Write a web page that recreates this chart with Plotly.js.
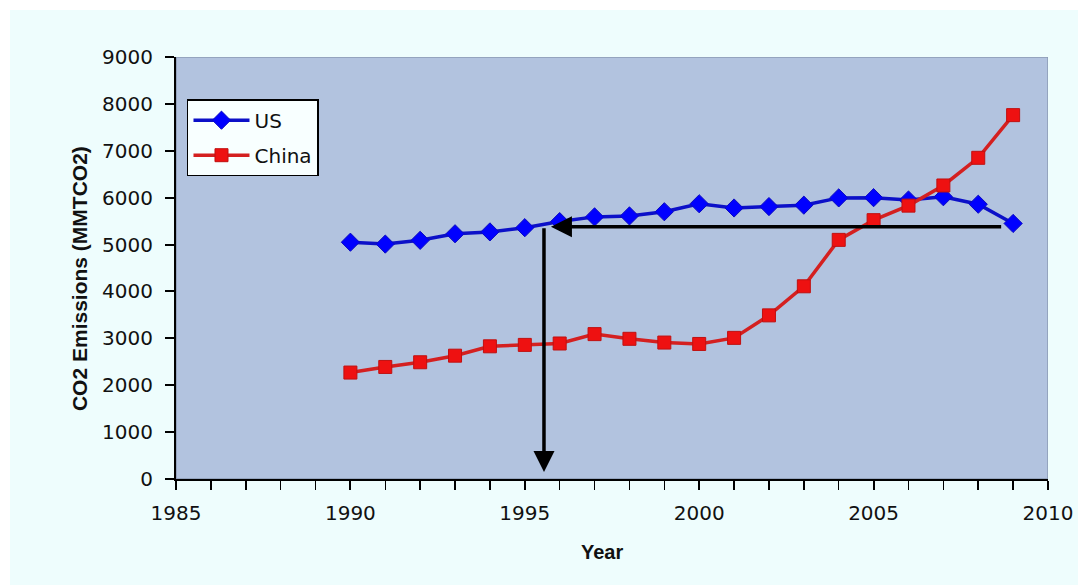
<!DOCTYPE html>
<html>
<head>
<meta charset="utf-8">
<script src="https://cdn.plot.ly/plotly-3.0.1.min.js"></script>
<style>
  html, body { margin: 0; padding: 0; background: #ffffff; width: 1078px; height: 585px; overflow: hidden; }
  #chart { position: absolute; left: 10px; top: 10px; width: 1068px; height: 575px; }
</style>
</head>
<body>
<div id="chart"></div>
<script>
const years = [1990,1991,1992,1993,1994,1995,1996,1997,1998,1999,2000,2001,2002,2003,2004,2005,2006,2007,2008,2009];
const usEmissions = [5050,5010,5090,5230,5270,5360,5490,5590,5610,5700,5870,5780,5810,5840,5995,6000,5950,6020,5860,5450];
const chinaEmissions = [2270,2390,2490,2630,2830,2860,2890,3090,2990,2910,2880,3010,3490,4110,5100,5520,5830,6260,6850,7760];
const seriesNames = ['US', 'China'];
const xTicks = [1985,1990,1995,2000,2005,2010];
const yTicks = [0,1000,2000,3000,4000,5000,6000,7000,8000,9000];
const xTitle = 'Year';
const yTitle = 'CO2 Emissions (MMTCO2)';
// reference arrows: horizontal read-off at US level, vertical drop to the year axis
const readLevel = 5380;
const readYear = 1995.55;
const hArrowFrom = 2008.7;
const hArrowTo = 1995.75;
const vArrowTo = 150;

const font = 'Arial, "Liberation Sans", sans-serif';
const tickFont = '"DejaVu Sans", Arial, sans-serif';

const traces = [
  {
    x: years, y: usEmissions, name: seriesNames[0], type: 'scatter', mode: 'lines+markers',
    legendgroup: 'a',
    line: {color: '#0c10c8', width: 3.5},
    marker: {symbol: 'diamond', size: 14, color: '#0000ff', line: {color: '#0a0ac0', width: 1}}
  },
  {
    x: years, y: chinaEmissions, name: seriesNames[1], type: 'scatter', mode: 'lines+markers',
    legendgroup: 'b',
    line: {color: '#d42020', width: 3.5},
    marker: {symbol: 'square', size: 13, color: '#ee1111', line: {color: '#c01010', width: 1}}
  }
];

const layout = {
  width: 1068, height: 575,
  margin: {l: 166, r: 30, t: 47, b: 106},
  paper_bgcolor: '#eefdfd',
  plot_bgcolor: '#b2c3df',
  font: {family: font, color: '#000000', size: 20},
  showlegend: true,
  legend: {
    x: 0.0126, y: 0.90, xanchor: 'left', yanchor: 'top',
    bgcolor: '#f8ffff', bordercolor: '#000000', borderwidth: 1.5,
    font: {family: tickFont, size: 20, color: '#111111'},
    traceorder: 'grouped', tracegroupgap: 6, itemwidth: 56
  },
  xaxis: {
    range: [1985, 2010], tickvals: xTicks, ticktext: xTicks.map(String),
    showgrid: false, zeroline: false,
    showline: true, linecolor: '#000000', linewidth: 2,
    ticks: 'outside', ticklen: 9, tickwidth: 2, tickcolor: '#000000',
    ticklabelstandoff: 6,
    minor: {dtick: 1, ticks: 'outside', ticklen: 9, tickwidth: 1.5, tickcolor: '#000000', showgrid: false},
    tickfont: {family: tickFont, size: 20, color: '#111111'},
    fixedrange: true
  },
  yaxis: {
    range: [0, 9000], tickvals: yTicks, ticktext: yTicks.map(String),
    showgrid: false, zeroline: false,
    showline: true, linecolor: '#000000', linewidth: 2,
    ticks: 'outside', ticklen: 9, tickwidth: 2, tickcolor: '#000000',
    ticklabelstandoff: 8,
    tickfont: {family: tickFont, size: 20, color: '#111111'},
    fixedrange: true
  },
  shapes: [
    {type: 'rect', xref: 'x', yref: 'y', x0: 1985, x1: 2010, y0: 0, y1: 9000, layer: 'below',
     line: {color: '#8a9ab4', width: 1.5}, fillcolor: 'rgba(0,0,0,0)'}
  ],
  annotations: [
    {x: hArrowTo, y: readLevel, ax: hArrowFrom, ay: readLevel, xref: 'x', yref: 'y', axref: 'x', ayref: 'y',
     text: '', showarrow: true, arrowhead: 2, arrowsize: 1.2, arrowwidth: 3.5, arrowcolor: '#000000', standoff: 0},
    {x: readYear, y: vArrowTo, ax: readYear, ay: readLevel, xref: 'x', yref: 'y', axref: 'x', ayref: 'y',
     text: '', showarrow: true, arrowhead: 2, arrowsize: 1.2, arrowwidth: 3.5, arrowcolor: '#000000', standoff: 0},
    {text: '<b>' + yTitle + '</b>', xref: 'paper', yref: 'paper', x: -0.110, y: 0.474,
     xanchor: 'center', yanchor: 'middle', textangle: -90, showarrow: false,
     font: {family: font, size: 21, color: '#111111'}},
    {text: '<b>' + xTitle + '</b>', xref: 'paper', yref: 'paper', x: 0.488, y: -0.172,
     xanchor: 'center', yanchor: 'middle', showarrow: false,
     font: {family: font, size: 20, color: '#111111'}}
  ]
};

Plotly.newPlot('chart', traces, layout, {displayModeBar: false, staticPlot: true});
</script>
</body>
</html>
